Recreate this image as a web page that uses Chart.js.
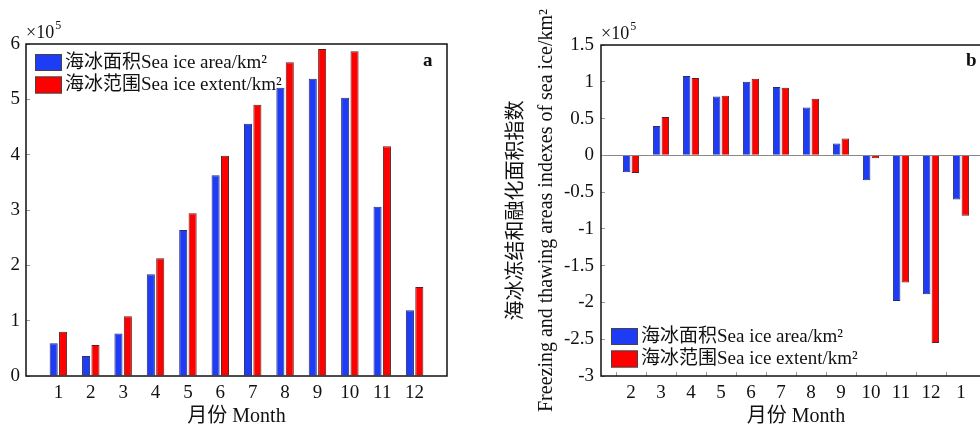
<!DOCTYPE html>
<html>
<head>
<meta charset="utf-8">
<script src="https://cdn.jsdelivr.net/npm/chart.js@4.4.1/dist/chart.umd.min.js"></script>
<style>
html,body{margin:0;padding:0;background:#fff;overflow:hidden;}
#wrap{position:relative;width:980px;height:429px;overflow:hidden;}
#cA{position:absolute;left:0;top:0;}
#cB{position:absolute;left:490px;top:0;}
</style>
</head>
<body>
<div id="wrap">
<canvas id="cA" width="470" height="429"></canvas>
<canvas id="cB" width="520" height="429"></canvas>
</div>
<script>
// ---- data (values in units of 10^5 km^2) ----
const monthsA = ['1','2','3','4','5','6','7','8','9','10','11','12'];
const areaA   = [0.59,0.36,0.77,1.84,2.64,3.63,4.56,5.21,5.37,5.03,3.06,1.19];
const extentA = [0.80,0.56,1.08,2.13,2.94,3.98,4.90,5.67,5.91,5.87,4.15,1.61];

const monthsB = ['2','3','4','5','6','7','8','9','10','11','12','1'];
const areaB   = [-0.23,0.40,1.08,0.80,1.00,0.93,0.65,0.16,-0.34,-1.98,-1.89,-0.60];
const extentB = [-0.24,0.52,1.05,0.81,1.04,0.92,0.77,0.23,-0.04,-1.73,-2.55,-0.82];

const seriesNames = ['海冰面积Sea ice area/km²', '海冰范围Sea ice extent/km²'];
const xTitle = '月份 Month';
const yTitleB = ['海冰冻结和融化面积指数', 'Freezing and thawing areas indexes of sea ice/km²'];

const FONT = "'Liberation Serif', 'Times New Roman', 'Noto Sans CJK SC', serif";
const BLUE = '#1e3cf5';
const RED = '#ff0000';

const pad = arr => [null, ...arr, null];
const padLabels = arr => ['', ...arr, ''];

const extras = {
  id: 'extras',
  afterDraw(chart, args, o) {
    const ctx = chart.ctx, a = chart.chartArea;
    ctx.save();
    // frame
    ctx.strokeStyle = '#111';
    ctx.lineWidth = 1.5;
    ctx.strokeRect(a.left, a.top, a.right - a.left, a.bottom - a.top);
    // exponent label
    ctx.fillStyle = '#111';
    ctx.textBaseline = 'alphabetic';
    ctx.textAlign = 'left';
    ctx.font = '18px ' + FONT;
    ctx.fillText('×10', a.left, a.top - 6);
    const w = ctx.measureText('×10').width;
    ctx.font = '12px ' + FONT;
    ctx.fillText('5', a.left + w + 1, a.top - 15);
    // panel letter
    ctx.font = 'bold 19px ' + FONT;
    ctx.fillText(o.letter, o.letterX, o.letterY);
    // legend
    ctx.font = '19px ' + FONT;
    ctx.textBaseline = 'middle';
    chart.data.datasets.forEach((ds, i) => {
      const y = o.legY + i * 22.5;
      ctx.fillStyle = ds.backgroundColor;
      ctx.fillRect(o.legX, y, 27, 17);
      ctx.strokeStyle = '#444';
      ctx.lineWidth = 1;
      ctx.strokeRect(o.legX + 0.5, y + 0.5, 26, 16);
      ctx.fillStyle = '#111';
      ctx.fillText(ds.label, o.legX + 30, y + 9);
    });
    ctx.restore();
  }
};

function makeChart(id, labels, s1, s2, yMin, yMax, step, yWidth, padTop, padRight, opts) {
  const isB = id === 'cB';
  return new Chart(document.getElementById(id), {
    type: 'bar',
    data: {
      labels: padLabels(labels),
      datasets: [
        { label: seriesNames[0], data: pad(s1), backgroundColor: BLUE, borderColor: '#2a2f6a', borderWidth: 1,
          categoryPercentage: 0.58, barPercentage: 0.86 },
        { label: seriesNames[1], data: pad(s2), backgroundColor: RED, borderColor: '#5a2020', borderWidth: 1,
          categoryPercentage: 0.58, barPercentage: 0.86 }
      ]
    },
    options: {
      responsive: false,
      animation: false,
      devicePixelRatio: 1,
      layout: { padding: { top: padTop, right: padRight, left: 0, bottom: 0 } },
      plugins: { legend: { display: false }, tooltip: { enabled: false }, extras: opts },
      scales: {
        x: {
          offset: false,
          border: { display: false },
          grid: {
            drawOnChartArea: false,
            drawTicks: isB,
            tickLength: -4,
            tickColor: ctx => (isB && ctx.tick && ctx.tick.label) ? '#999' : 'rgba(0,0,0,0)'
          },
          ticks: { color: '#111', font: { family: FONT, size: 19 }, padding: isB ? 10 : 6, maxRotation: 0, autoSkip: false },
          title: { display: true, text: xTitle, color: '#111', font: { family: FONT, size: 20 }, padding: { top: 0, bottom: 0 } },
          afterFit(s) { s.height = 53; }
        },
        y: {
          min: yMin, max: yMax,
          border: { display: false },
          grid: {
            drawOnChartArea: isB,
            tickLength: -4,
            tickColor: '#999',
            color: ctx => (isB && ctx.tick && ctx.tick.value === 0) ? '#888' : 'rgba(0,0,0,0)'
          },
          ticks: {
            stepSize: step, color: '#111', font: { family: FONT, size: 19 }, padding: isB ? 11 : 10,
            callback: v => String(Math.round(v * 100) / 100)
          },
          title: isB ? { display: true, text: yTitleB, color: '#111', font: { family: FONT, size: 20, lineHeight: 1.5 }, padding: { top: 12, bottom: 0 } } : { display: false },
          afterFit(s) { s.width = yWidth; }
        }
      }
    },
    plugins: [extras]
  });
}

makeChart('cA', monthsA, areaA, extentA, 0, 6, 1, 26, 44, 23,
  { letter: 'a', letterX: 423, letterY: 66, legX: 35, legY: 54 });
makeChart('cB', monthsB, areaB, extentB, -3, 1.5, 0.5, 111, 45, 19,
  { letter: 'b', letterX: 476, letterY: 66, legX: 121, legY: 328 });
</script>
</body>
</html>
